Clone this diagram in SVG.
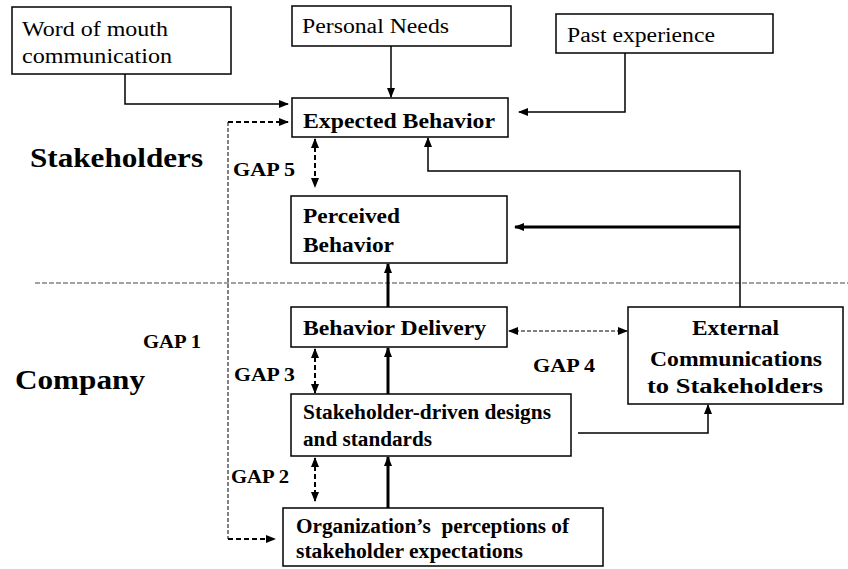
<svg xmlns="http://www.w3.org/2000/svg" width="848" height="569" viewBox="0 0 848 569">
<style>
.box{fill:#fff;stroke:#000;stroke-width:1.5}
.t{font-family:"Liberation Serif","Times New Roman",serif;font-size:20px;fill:#000}
.b{font-family:"Liberation Serif","Times New Roman",serif;font-size:20px;font-weight:bold;fill:#000}
.big{font-family:"Liberation Serif","Times New Roman",serif;font-size:28px;font-weight:bold;fill:#000}
.ln{fill:none;stroke:#000;stroke-width:1.5}
.th{fill:none;stroke:#000;stroke-width:3}
.dd{fill:none;stroke:#000;stroke-width:2;stroke-dasharray:5 3}
.ds{fill:none;stroke:#000;stroke-width:1;stroke-dasharray:4 2}
.sep{fill:none;stroke:#444;stroke-width:1;stroke-dasharray:5 2}
</style>
<defs>
<marker id="a" markerUnits="userSpaceOnUse" markerWidth="10" markerHeight="10" refX="9" refY="5" orient="auto-start-reverse" viewBox="0 0 10 10">
<path d="M0,1 L10,5 L0,9 Z" fill="#000"/>
</marker>
</defs>
<rect width="848" height="569" fill="#fff"/>
<line class="sep" x1="35" y1="283" x2="848" y2="283"/>
<g id="connectors">
<path class="ln" d="M125,74 V104 H288" marker-end="url(#a)"/>
<path class="ln" d="M391,46 V97" marker-end="url(#a)"/>
<path class="ln" d="M625,53 V112 H519" marker-end="url(#a)"/>
<path class="ln" d="M740,307 V171 H428 V138" marker-end="url(#a)"/>
<path class="th" d="M740,227 H515" marker-end="url(#a)"/>
<path class="th" d="M388,307 V264" marker-end="url(#a)"/>
<path class="th" d="M388,394 V348" marker-end="url(#a)"/>
<path class="th" d="M388,508 V457" marker-end="url(#a)"/>
<path class="ln" d="M578,433 H708 V405" marker-end="url(#a)"/>
<path class="ds" d="M509,331 H627" marker-start="url(#a)" marker-end="url(#a)"/>
<path class="dd" d="M315,139 V187" marker-start="url(#a)" marker-end="url(#a)"/>
<path class="dd" d="M315,349 V393" marker-start="url(#a)" marker-end="url(#a)"/>
<path class="dd" d="M315,458 V501" marker-start="url(#a)" marker-end="url(#a)"/>
<path class="dd" d="M228,122 H288" marker-end="url(#a)"/>
<path class="ds" d="M228,122 V539"/>
<path class="dd" d="M228,539 H275" marker-end="url(#a)"/>
</g>
<g id="word-of-mouth">
<rect class="box" x="12" y="7" width="219" height="67"/>
<text class="t" x="22" y="36" textLength="146" lengthAdjust="spacingAndGlyphs">Word of mouth</text>
<text class="t" x="22" y="63" textLength="150" lengthAdjust="spacingAndGlyphs">communication</text>
</g>
<g id="personal-needs">
<rect class="box" x="292" y="6" width="219" height="40"/>
<text class="t" x="302" y="33" textLength="147" lengthAdjust="spacingAndGlyphs">Personal Needs</text>
</g>
<g id="past-experience">
<rect class="box" x="556" y="14" width="217" height="39"/>
<text class="t" x="567" y="42" textLength="148" lengthAdjust="spacingAndGlyphs">Past experience</text>
</g>
<g id="expected-behavior">
<rect class="box" x="292" y="98" width="216" height="39"/>
<text class="b" x="303" y="128" textLength="192" lengthAdjust="spacingAndGlyphs">Expected Behavior</text>
</g>
<g id="perceived-behavior">
<rect class="box" x="291" y="196" width="216" height="67"/>
<text class="b" x="303" y="223" textLength="97" lengthAdjust="spacingAndGlyphs">Perceived</text>
<text class="b" x="303" y="252" textLength="91" lengthAdjust="spacingAndGlyphs">Behavior</text>
</g>
<g id="behavior-delivery">
<rect class="box" x="291" y="307" width="216" height="40"/>
<text class="b" x="303" y="335" textLength="183" lengthAdjust="spacingAndGlyphs">Behavior Delivery</text>
</g>
<g id="designs-standards">
<rect class="box" x="291" y="394" width="280" height="62"/>
<text class="b" x="303" y="419" textLength="248" lengthAdjust="spacingAndGlyphs">Stakeholder-driven designs</text>
<text class="b" x="303" y="446" textLength="129" lengthAdjust="spacingAndGlyphs">and standards</text>
</g>
<g id="org-perceptions">
<rect class="box" x="283" y="508" width="320" height="58"/>
<text class="b" x="296" y="533" textLength="273" lengthAdjust="spacingAndGlyphs" xml:space="preserve">Organization’s  perceptions of</text>
<text class="b" x="296" y="558" textLength="227" lengthAdjust="spacingAndGlyphs">stakeholder expectations</text>
</g>
<g id="external-communications">
<rect class="box" x="628" y="307" width="215" height="97"/>
<text class="b" x="692" y="335" textLength="87" lengthAdjust="spacingAndGlyphs">External</text>
<text class="b" x="650" y="366" textLength="172" lengthAdjust="spacingAndGlyphs">Communications</text>
<text class="b" x="647" y="393" textLength="176" lengthAdjust="spacingAndGlyphs">to Stakeholders</text>
</g>
<g id="labels">
<text class="big" x="30" y="167" textLength="173" lengthAdjust="spacingAndGlyphs">Stakeholders</text>
<text class="big" x="15" y="389" textLength="130" lengthAdjust="spacingAndGlyphs">Company</text>
<text class="b" x="233" y="176" textLength="62" lengthAdjust="spacingAndGlyphs" style="font-size:18px">GAP 5</text>
<text class="b" x="143" y="348" textLength="58" lengthAdjust="spacingAndGlyphs" style="font-size:18px">GAP 1</text>
<text class="b" x="234" y="381" textLength="61" lengthAdjust="spacingAndGlyphs" style="font-size:18px">GAP 3</text>
<text class="b" x="231" y="483" textLength="58" lengthAdjust="spacingAndGlyphs" style="font-size:18px">GAP 2</text>
<text class="b" x="533" y="372" textLength="62" lengthAdjust="spacingAndGlyphs" style="font-size:18px">GAP 4</text>
</g>
</svg>
